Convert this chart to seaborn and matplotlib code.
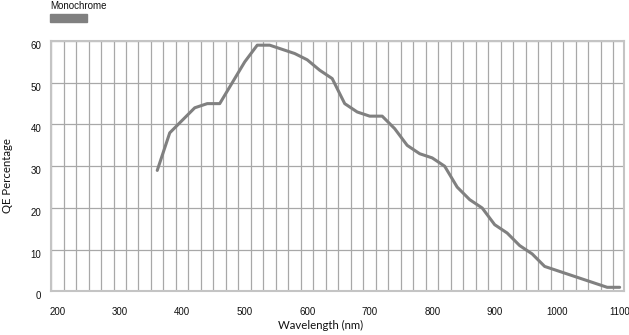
import seaborn as sns
import matplotlib.pyplot as plt
import numpy as np
import pandas as pd
from matplotlib.patches import Rectangle
from matplotlib.ticker import MultipleLocator

# quantum efficiency curve (every 20 nm)
wavelength = [360, 380, 400, 420, 440, 460, 480, 500, 520, 540,
              560, 580, 600, 620, 640, 660, 680, 700, 720, 740,
              760, 780, 800, 820, 840, 860, 880, 900, 920, 940,
              960, 980, 1000, 1020, 1040, 1060, 1080, 1100]
qe = [29, 38, 41, 44, 45, 45, 50, 55, 59, 59,
      58, 57, 55.5, 53, 51, 45, 43, 42, 42, 39,
      35, 33, 32, 30, 25, 22, 20, 16, 14, 11,
      9, 6, 5, 4, 3, 2, 1, 1]
x_ticks = [200, 300, 400, 500, 600, 700, 800, 900, 1000, 1100]
y_ticks = [0, 10, 20, 30, 40, 50, 60]

df = pd.DataFrame({'Wavelength': wavelength, 'QE': qe})

sns.set_theme(style='white')
plt.rcParams['font.family'] = ['Liberation Sans', 'DejaVu Sans']

fig = plt.figure(figsize=(6.29, 3.35), dpi=100)
ax = fig.add_axes([0.0811, 0.1299, 0.9110, 0.7477])

line_color = '#808080'
sns.lineplot(data=df, x='Wavelength', y='QE', color=line_color, lw=2.2, ax=ax)

ax.set_xlim(190, 1107)
ax.set_ylim(0, 60)
ax.set_xticks(x_ticks)
ax.set_yticks(y_ticks)
ax.xaxis.set_minor_locator(MultipleLocator(20, offset=10))

# vertical grid sits between the data points, horizontal on the ticks
ax.grid(False)
ax.grid(which='minor', axis='x', color='#a8a8a8', lw=0.9)
ax.grid(which='major', axis='y', color='#a8a8a8', lw=0.9)
for s in ax.spines.values():
    s.set_color('#c4c4c4')
    s.set_linewidth(1.5)

ax.tick_params(axis='both', which='both', length=0, labelsize=7, colors='#111111')
ax.tick_params(axis='x', pad=11)
ax.tick_params(axis='y', pad=7)
for lbl in ax.get_yticklabels():
    lbl.set_verticalalignment('top')

ax.set_xlabel('Wavelength (nm)', fontsize=8.2, family='Lato', color='#111111')
ax.set_ylabel('QE Percentage', fontsize=8.2, family='Lato', color='#111111')
ax.xaxis.set_label_coords(0.471, -0.115)
ax.yaxis.set_label_coords(-0.066, 0.465)

# legend: label above a grey swatch
fig.text(50 / 629, 1 - 6 / 335, 'Monochrome', fontsize=7, color='#111111',
         va='center', ha='left')
fig.patches.append(Rectangle((50 / 629, 1 - 22 / 335), 37 / 629, 8 / 335,
                             transform=fig.transFigure, color=line_color))

fig.savefig('out.png', dpi=100)
